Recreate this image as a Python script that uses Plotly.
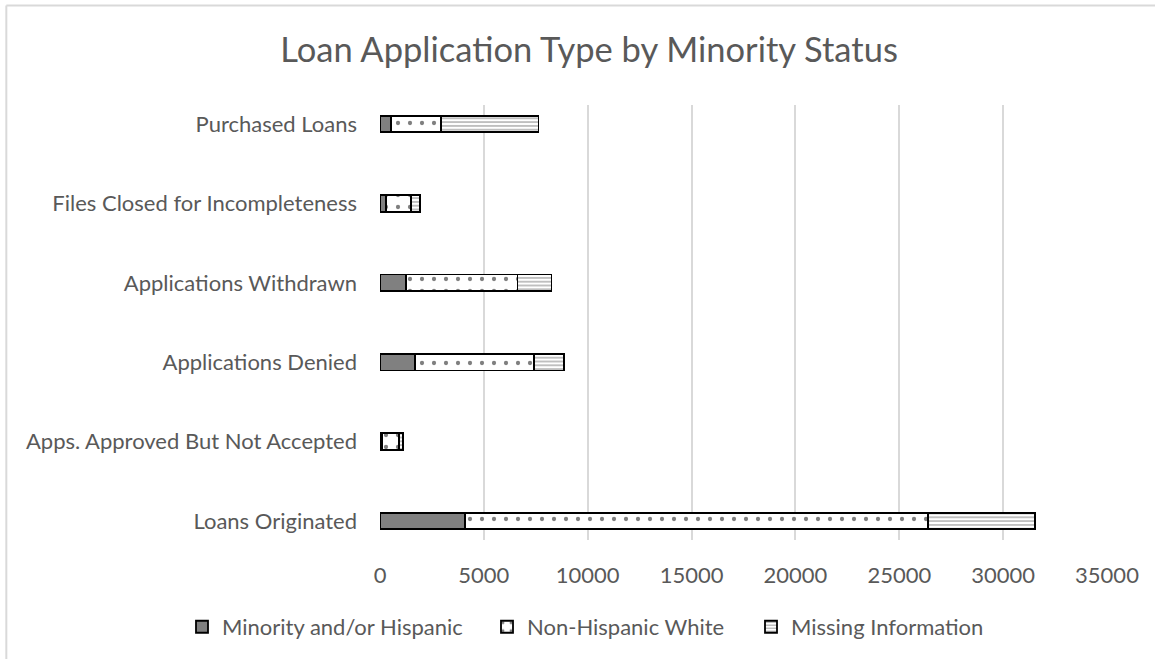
import plotly.graph_objects as go

categories = [
    "Loans Originated",
    "Apps. Approved But Not Accepted",
    "Applications Denied",
    "Applications Withdrawn",
    "Files Closed for Incompleteness",
    "Purchased Loans",
]
minority = [4100, 80, 1700, 1250, 290, 520]
non_hispanic_white = [22300, 840, 5700, 5370, 1190, 2410]
missing_info = [5150, 205, 1450, 1640, 450, 4700]
x_ticks = [0, 5000, 10000, 15000, 20000, 25000, 30000, 35000]
x_tick_text = ["0", "5000", "10000", "15000", "20000", "25000", "30000", "35000"]

font_family = "Lato"
text_color = "#595959"

fig = go.Figure()

fig.add_trace(
    go.Bar(
        y=categories,
        x=minority,
        orientation="h",
        name="Minority and/or Hispanic",
        legend="legend",
        marker=dict(color="#808080", line=dict(color="black", width=1.8)),
    )
)
fig.add_trace(
    go.Bar(
        y=categories,
        x=non_hispanic_white,
        orientation="h",
        name="Non-Hispanic White",
        legend="legend2",
        marker=dict(
            color="white",
            line=dict(color="black", width=1.8),
            pattern=dict(shape=".", fgcolor="black", bgcolor="white", size=12, solidity=0.1),
        ),
    )
)
fig.add_trace(
    go.Bar(
        y=categories,
        x=missing_info,
        orientation="h",
        name="Missing Information",
        legend="legend3",
        marker=dict(
            color="white",
            line=dict(color="black", width=1.8),
            pattern=dict(shape="-", fgcolor="#7F7F7F", bgcolor="white", size=3.8, solidity=0.5),
        ),
    )
)

legend_common = dict(
    orientation="h",
    xref="container",
    xanchor="left",
    yref="container",
    y=0.0486,
    yanchor="middle",
    font=dict(size=22, color=text_color, family=font_family),
    itemclick=False,
    bgcolor="rgba(0,0,0,0)",
)

fig.update_layout(
    barmode="stack",
    bargap=0.79,
    width=1155,
    height=659,
    plot_bgcolor="white",
    paper_bgcolor="white",
    margin=dict(l=380, r=48, t=105, b=119),
    font=dict(family=font_family, color=text_color, size=22),
    title=dict(
        text="Loan Application Type by Minority Status",
        x=0.51,
        xref="container",
        xanchor="center",
        y=0.925,
        yref="container",
        yanchor="middle",
        font=dict(size=34.5, color=text_color, family=font_family),
    ),
    xaxis=dict(
        range=[0, 35000],
        tickvals=x_ticks,
        ticktext=x_tick_text,
        showgrid=True,
        gridcolor="#D9D9D9",
        gridwidth=1.5,
        zeroline=False,
        showline=False,
        ticks="",
        ticklabelstandoff=20,
        automargin=False,
    ),
    yaxis=dict(
        range=[-0.24, 5.24],
        showgrid=False,
        zeroline=False,
        showline=False,
        ticks="",
        ticklabelstandoff=22,
        automargin=False,
    ),
    legend=dict(legend_common, x=182 / 1155),
    legend2=dict(legend_common, x=487 / 1155),
    legend3=dict(legend_common, x=751 / 1155),
    showlegend=True,
    shapes=[
        dict(
            type="line", xref="paper", yref="paper",
            x0=-0.514, x1=1.07, y0=1.229, y1=1.229,
            line=dict(color="#D9D9D9", width=2),
        ),
        dict(
            type="line", xref="paper", yref="paper",
            x0=-0.514, x1=-0.514, y0=1.229, y1=-0.3,
            line=dict(color="#D9D9D9", width=2),
        ),
    ],
)

fig.write_html(
    "out.html",
    config={"displayModeBar": False},
    post_script="document.body.style.margin='0';",
)
